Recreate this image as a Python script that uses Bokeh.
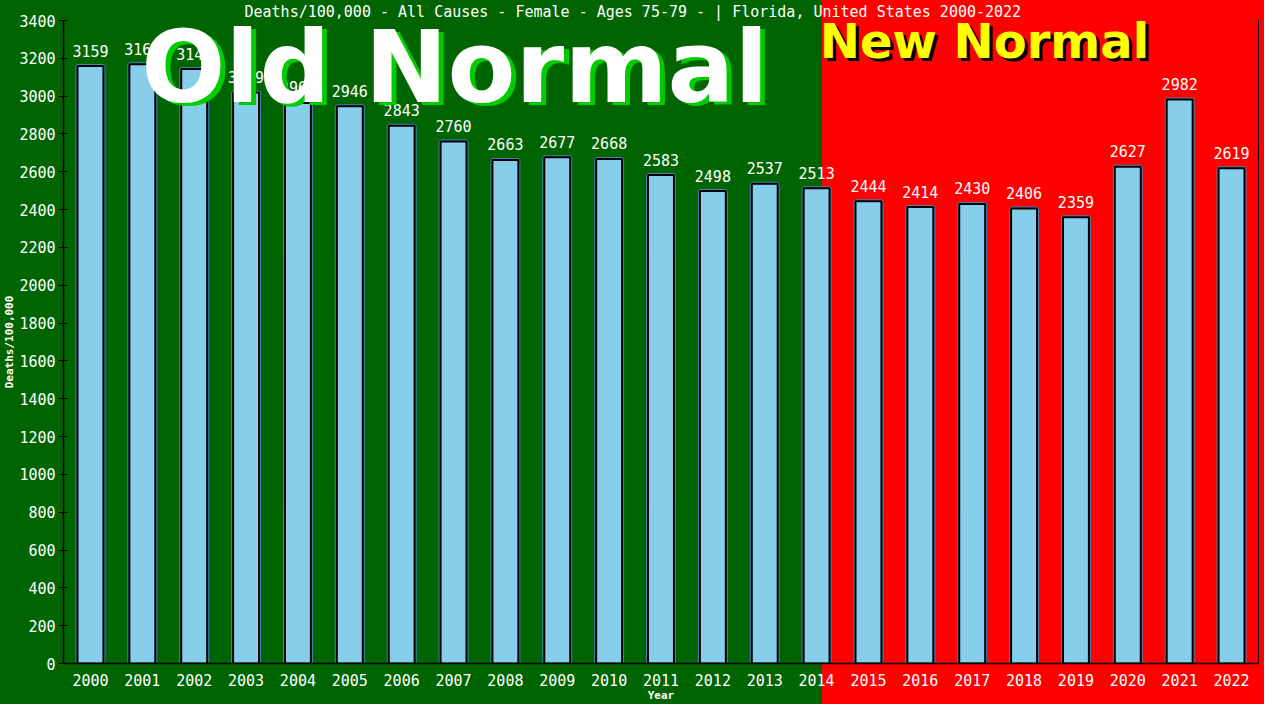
from bokeh.plotting import figure
from bokeh.models import Range1d, FixedTicker, LinearAxis, ColumnDataSource
from bokeh.core.properties import value
from bokeh.transform import dodge
from bokeh.embed import file_html
from bokeh.resources import INLINE

years = list(range(2000, 2023))
deaths = [3159, 3169, 3143, 3019, 2964, 2946, 2843, 2760, 2663, 2677, 2668, 2583,
          2498, 2537, 2513, 2444, 2414, 2430, 2406, 2359, 2627, 2982, 2619]
labels = [str(v) for v in deaths]
y_ticks = list(range(0, 3401, 200))

title_text = "Deaths/100,000 - All Causes - Female - Ages 75-79 -  | Florida, United States 2000-2022"

MONO = "DejaVu Sans Mono"

src = ColumnDataSource(dict(year=years, deaths=deaths, label=labels))
old_src = ColumnDataSource(dict(x=[2000.98], y=[2845], t=["Old Normal"]))
new_src = ColumnDataSource(dict(x=[2014.06], y=[3144], t=["New Normal"]))

p = figure(width=1264, height=704, output_backend="svg", toolbar_location=None,
           x_range=Range1d(1999.48, 2022.52), y_range=Range1d(0, 3400),
           min_border_left=60, min_border_right=5, min_border_top=17, min_border_bottom=35,
           background_fill_color=None, border_fill_color=None)
p.styles = {"background": "linear-gradient(90deg, #006400 0px, #006400 822px, #ff0000 822px, #ff0000 100%)"}
p.outline_line_color = None
p.xgrid.visible = False
p.ygrid.visible = False

# title
p.title.text = title_text
p.title.align = "left"
p.title.offset = 181
p.title.standoff = 0
p.title.text_color = "white"
p.title.text_font = MONO
p.title.text_font_style = "normal"
p.title.text_font_size = "15px"

# bars: steelblue halo + black outline
p.vbar(x="year", top="deaths", width=0.5, source=src, fill_color="#87ceeb",
       line_color="#4682b4", line_width=4)
p.vbar(x="year", top="deaths", width=0.5, source=src, fill_color="#87ceeb",
       line_color="black", line_width=2)

p.text(x="year", y=dodge("deaths", 50, range=p.y_range), text="label", source=src,
       text_align="center", text_baseline="bottom", text_color="white",
       text_font=value(MONO), text_font_size="15px")

# axes
xa = p.xaxis[0]
xa.ticker = FixedTicker(ticks=years)
xa.major_tick_line_color = None
xa.minor_tick_line_color = None
xa.axis_line_color = "black"
xa.axis_line_width = 1.5
xa.major_label_text_color = "white"
xa.major_label_text_font = MONO
xa.major_label_text_font_size = "15px"
xa.major_label_standoff = 4
xa.axis_label = "Year"
xa.axis_label_text_color = "white"
xa.axis_label_text_font = MONO
xa.axis_label_text_font_style = "bold"
xa.axis_label_text_font_size = "11px"
xa.axis_label_standoff = 0

ya = p.yaxis[0]
ya.ticker = FixedTicker(ticks=y_ticks)
ya.major_tick_in = 4
ya.major_tick_out = 5
ya.major_tick_line_color = "black"
ya.minor_tick_line_color = None
ya.axis_line_color = "black"
ya.axis_line_width = 1.5
ya.major_label_text_color = "white"
ya.major_label_text_font = MONO
ya.major_label_text_font_size = "15px"
ya.major_label_standoff = 3
ya.axis_label = "Deaths/100,000"
ya.axis_label_text_color = "white"
ya.axis_label_text_font = MONO
ya.axis_label_text_font_style = "bold"
ya.axis_label_text_font_size = "11px"
ya.axis_label_standoff = 0

ra = LinearAxis(ticker=FixedTicker(ticks=[0]), axis_line_color="black",
                major_tick_line_color=None, minor_tick_line_color=None,
                major_label_overrides={0: ""}, major_label_standoff=0)
p.add_layout(ra, "right")

# Old Normal / New Normal, drawn last (overlay level) over the value labels
p.text(x=dodge("x", 0.058, range=p.x_range), y=dodge("y", -16, range=p.y_range),
       text="t", source=new_src, text_align="left", text_baseline="bottom",
       text_color="black", text_font=value("DejaVu Sans"), text_font_style="bold",
       text_font_size="48px", level="overlay")
p.text(x="x", y="y", text="t", source=new_src, text_align="left", text_baseline="bottom",
       text_color="#ffff00", text_font=value("DejaVu Sans"), text_font_style="bold",
       text_font_size="48px", level="overlay")
p.text(x=dodge("x", 0.096, range=p.x_range), y=dodge("y", -16, range=p.y_range),
       text="t", source=old_src, text_align="left", text_baseline="bottom",
       text_color="#00cc00", text_font=value("DejaVu Sans"), text_font_style="bold",
       text_font_size="99px", level="overlay")
p.text(x="x", y="y", text="t", source=old_src, text_align="left", text_baseline="bottom",
       text_color="white", text_font=value("DejaVu Sans"), text_font_style="bold",
       text_font_size="99px", level="overlay")

open("out.html", "w").write(file_html(p, INLINE))
